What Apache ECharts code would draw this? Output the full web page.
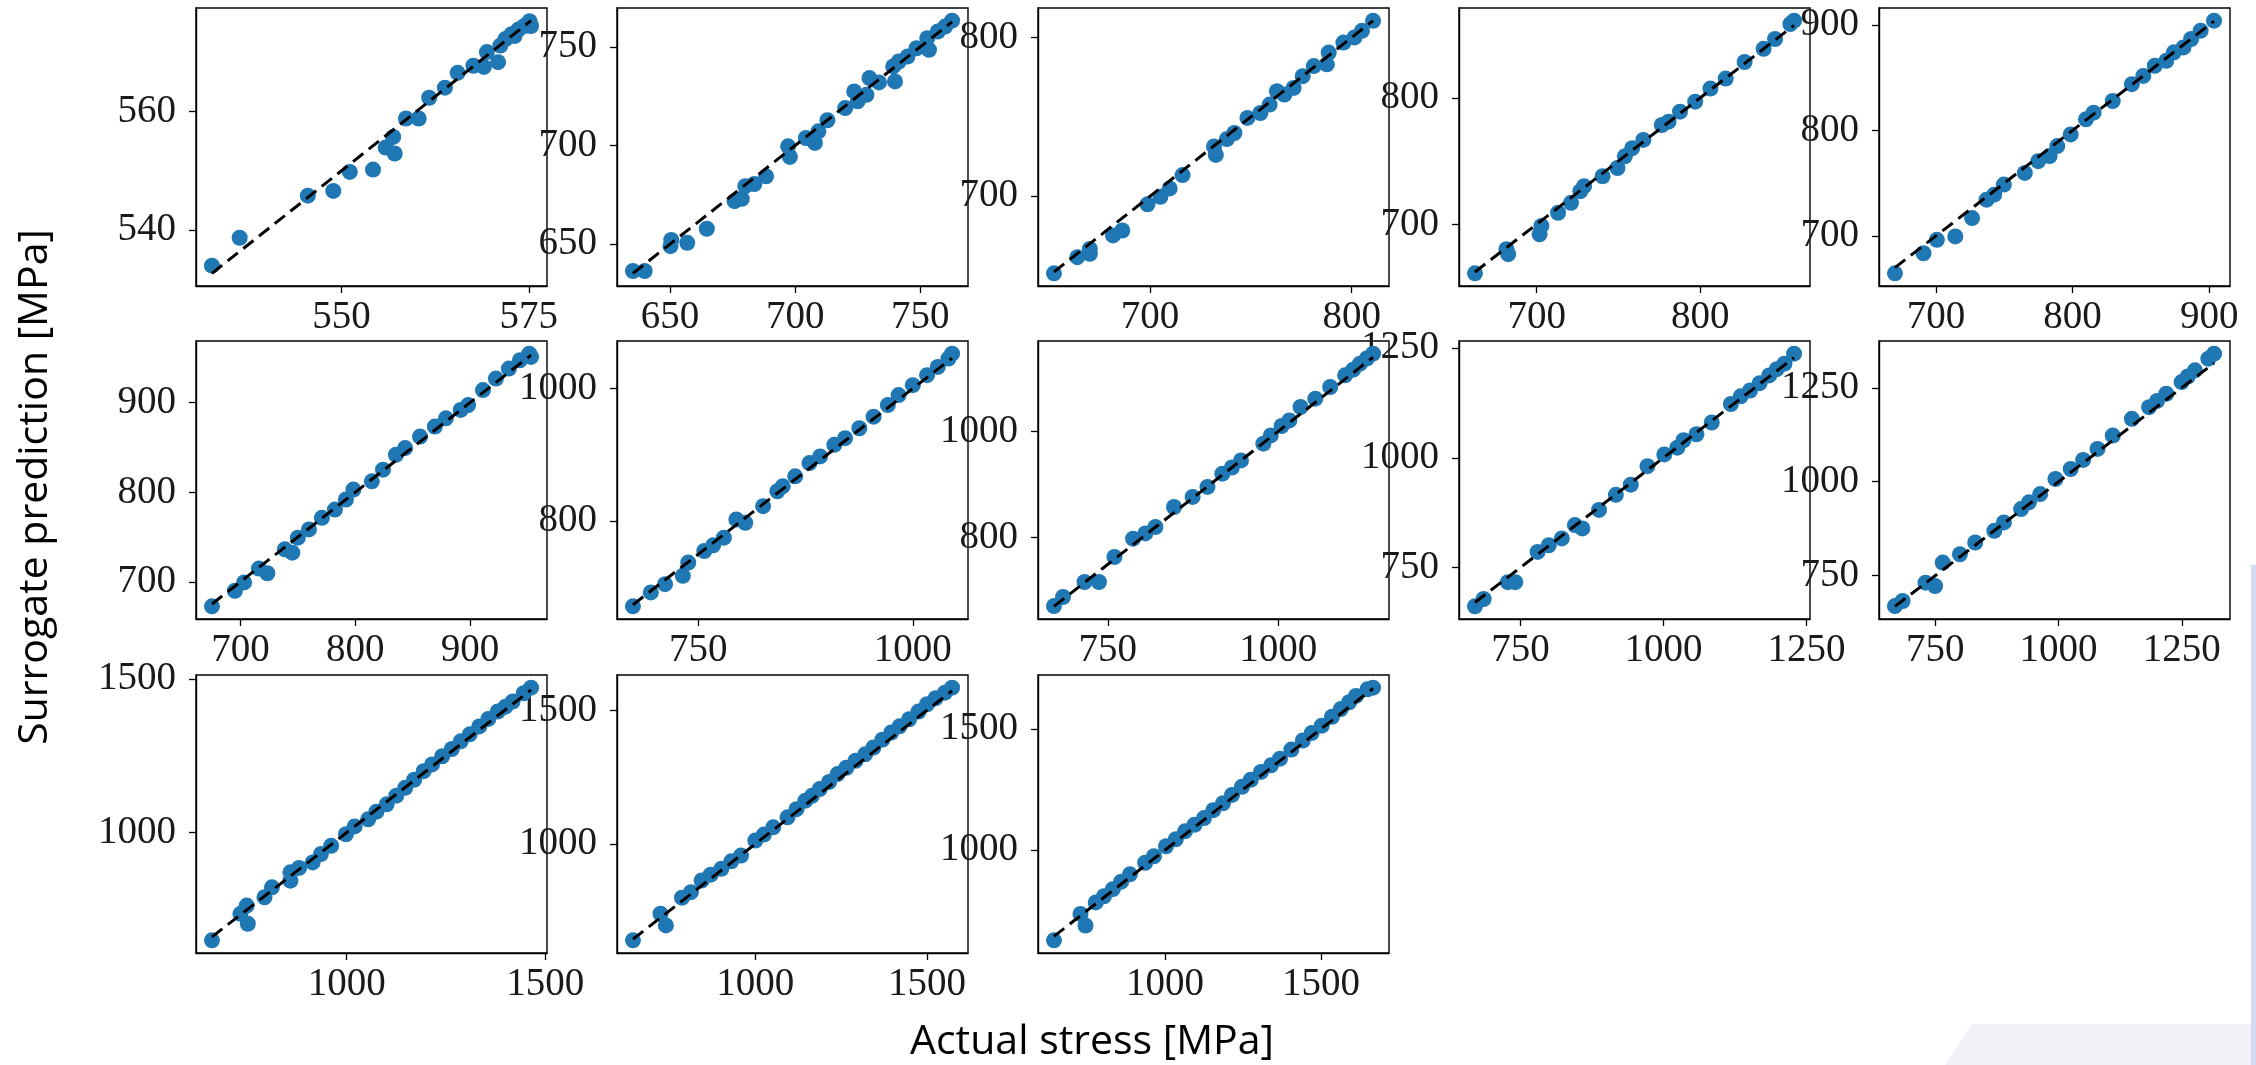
<!DOCTYPE html>
<html><head><meta charset="utf-8">
<script src="https://cdn.jsdelivr.net/npm/echarts@6/dist/echarts.min.js"></script>
<style>html,body{margin:0;padding:0;background:#fff}#c{width:2256px;height:1065px}</style>
</head><body><div id="c"></div>
<script>
// ---- data: actual stress (x) vs surrogate prediction (y), one pair per subplot ----
const actual1 = [532.7,536.4,545.5,548.9,551.1,554.2,555.9,557.1,556.9,558.6,560.3,561.7,563.8,565.5,567.6,569.0,569.4,570.9,571.2,571.9,572.7,573.6,574.4,575.1,575.3,573.1];
const predicted1 = [534.0,538.7,545.8,546.6,549.8,550.2,553.9,552.9,555.7,558.8,558.8,562.3,564.0,566.5,567.7,567.5,570.0,568.3,571.1,572.2,573.0,573.8,574.4,575.2,574.4,572.7];
const actual2 = [635.2,639.9,650.2,650.5,656.9,664.7,675.8,678.7,680.1,683.7,688.4,697.2,697.9,704.3,707.9,709.3,712.9,720.0,723.6,725.0,728.5,729.7,733.5,739.2,739.9,741.4,744.9,748.5,753.5,752.8,757.0,759.9,762.7];
const predicted2 = [636.4,636.4,649.0,652.1,650.7,657.8,671.8,673.0,679.4,680.5,684.4,699.6,694.2,703.8,701.3,707.2,712.8,719.0,727.4,722.4,725.7,734.2,732.0,740.1,732.5,742.6,745.1,749.3,748.5,754.4,757.8,760.3,763.3];
const actual3 = [652.3,663.9,670.1,670.1,681.6,686.2,698.7,705.1,709.7,716.1,731.7,732.6,738.1,741.8,748.3,754.7,759.3,762.9,766.6,771.2,775.7,781.2,787.7,788.6,795.9,801.4,805.1,810.6];
const predicted3 = [651.4,661.6,666.8,663.7,675.3,678.4,694.9,699.6,704.9,713.3,731.3,726.0,736.0,739.8,749.3,752.4,757.7,766.1,764.0,768.2,775.6,782.0,783.1,790.5,796.8,800.0,804.2,810.5];
const actual4 = [662.3,681.5,682.6,701.8,702.9,713.1,721.0,726.7,729.0,740.3,749.4,753.9,758.4,765.2,776.5,780.6,787.6,796.9,806.2,815.5,827.1,838.7,845.7,855.0,857.3];
const predicted4 = [661.2,680.3,676.4,692.1,698.7,709.1,717.0,726.2,730.1,738.0,744.5,753.7,760.2,766.7,778.5,781.1,789.0,796.9,807.3,815.2,828.3,838.7,846.5,858.3,861.0];
const actual5 = [669.9,690.8,700.6,714.1,726.4,737.0,742.6,749.6,765.0,774.8,783.2,788.8,798.6,809.8,815.4,829.4,843.4,851.8,860.2,868.6,874.2,881.2,886.8,893.8,903.6];
const predicted5 = [664.4,683.5,696.2,699.4,716.8,734.3,739.0,748.6,759.7,770.8,775.6,785.1,796.2,810.5,816.8,827.9,843.8,851.7,861.3,866.0,874.0,878.7,886.7,894.6,904.1];
const actual6 = [675.2,695.2,703.2,716.1,723.5,738.7,745.2,750.0,759.7,771.0,782.3,791.9,798.4,814.5,824.2,835.5,843.5,856.5,869.4,879.0,891.9,898.4,911.3,922.6,933.9,943.5,951.6,953.2];
const predicted6 = [672.6,690.0,699.3,714.8,709.6,736.3,732.6,749.3,758.5,771.5,780.7,791.9,803.0,812.2,825.2,841.9,849.3,862.2,873.3,882.6,891.9,897.4,914.1,927.0,938.1,947.4,954.8,951.1];
const actual7 = [674.0,694.8,711.4,732.1,738.4,757.1,767.4,779.9,794.4,804.8,825.6,842.2,848.4,863.0,879.6,892.0,908.6,921.1,937.7,954.3,970.9,983.4,1000.0,1016.6,1029.1,1041.5,1045.7];
const predicted7 = [671.5,692.5,705.0,717.5,737.5,755.0,763.5,775.0,802.5,797.5,822.5,845.0,852.5,867.5,887.5,897.5,915.0,925.0,940.0,957.5,975.0,990.0,1005.0,1020.0,1032.5,1045.0,1052.5];
const actual8 = [670.9,684.2,715.8,736.9,759.7,787.0,805.0,819.8,847.1,874.4,896.2,918.1,932.0,945.4,978.2,989.1,1005.0,1016.4,1032.8,1054.5,1076.3,1098.2,1110.0,1120.0,1130.0,1139.2];
const predicted8 = [671.5,688.5,716.7,716.7,763.7,798.1,808.0,820.1,857.7,876.6,895.4,920.4,932.0,945.4,976.8,992.4,1010.0,1020.6,1045.8,1061.5,1083.4,1105.3,1116.0,1127.3,1137.0,1146.1];
const actual9 = [670.4,685.6,727.8,740.9,780.0,799.5,822.2,845.1,858.1,887.3,916.7,942.8,972.0,1001.4,1024.1,1035.0,1057.6,1084.3,1117.8,1135.0,1151.2,1168.0,1184.7,1198.0,1211.4,1228.2];
const predicted9 = [661.5,678.3,716.6,716.6,785.6,800.8,816.2,846.7,839.1,881.2,915.7,938.7,980.9,1007.6,1023.0,1040.0,1053.6,1080.4,1122.5,1140.0,1153.3,1170.0,1187.7,1202.0,1214.4,1237.3];
const actual10 = [668.2,683.7,730.2,749.6,765.1,800.0,831.0,869.8,889.2,924.0,940.0,962.8,993.8,1024.8,1050.0,1079.1,1110.1,1148.8,1183.7,1200.0,1218.6,1249.6,1262.0,1276.7,1303.9,1315.5];
const predicted10 = [669.0,682.4,731.3,722.4,784.7,806.9,838.1,869.2,891.5,927.0,945.0,967.1,1007.1,1033.8,1058.0,1087.2,1122.8,1167.3,1198.4,1215.0,1234.0,1265.1,1280.0,1296.3,1327.4,1340.8];
const actual11 = [660.5,732.3,748.1,750.9,792.9,811.6,858.2,858.2,880.0,914.2,935.0,960.8,998.1,1020.0,1054.1,1075.0,1100.7,1125.0,1147.4,1170.0,1194.0,1215.0,1240.7,1265.0,1287.3,1310.0,1334.0,1357.0,1380.6,1400.0,1417.9,1445.9,1464.5];
const predicted11 = [649.0,735.4,762.4,703.0,789.4,821.8,843.4,870.4,885.0,902.8,930.0,956.8,994.6,1020.0,1043.2,1068.0,1091.8,1120.0,1145.8,1172.0,1199.8,1222.0,1248.4,1272.0,1297.0,1320.0,1345.6,1370.0,1394.2,1410.0,1426.6,1453.6,1471.9];
const actual12 = [643.7,723.9,739.6,786.5,812.5,843.7,870.0,901.0,930.0,958.3,1000.0,1025.0,1052.1,1093.8,1120.0,1145.8,1165.0,1187.5,1215.0,1239.6,1265.0,1291.7,1320.0,1343.8,1370.0,1395.9,1420.0,1447.9,1475.0,1500.0,1525.0,1552.1,1572.9];
const predicted12 = [639.3,738.8,695.3,799.0,819.6,863.2,885.0,906.7,935.0,956.5,1012.4,1035.0,1062.2,1099.5,1130.0,1161.7,1180.0,1205.2,1232.0,1261.2,1285.0,1311.0,1335.0,1360.7,1390.0,1416.7,1440.0,1466.4,1495.0,1522.4,1545.0,1565.9,1584.6];
const actual13 = [644.8,729.9,745.8,778.6,805.0,833.3,860.0,888.1,936.7,965.0,1003.6,1035.0,1064.5,1095.0,1125.3,1155.0,1186.1,1215.0,1247.0,1275.0,1307.8,1340.0,1368.6,1405.0,1441.6,1470.0,1502.4,1535.0,1563.2,1590.0,1611.9,1648.4,1666.6];
const predicted13 = [628.1,737.1,689.4,784.7,810.0,839.2,870.0,900.5,948.2,975.0,1016.3,1045.0,1077.7,1105.0,1132.2,1165.0,1193.5,1228.0,1261.6,1290.0,1322.9,1350.0,1377.4,1415.0,1452.3,1483.0,1513.6,1550.0,1581.7,1610.0,1636.2,1663.5,1670.3];

// ---- tick labels per subplot ----
const xTicks1 = [550,575], yTicks1 = [540,560];
const xTicks2 = [650,700,750], yTicks2 = [650,700,750];
const xTicks3 = [700,800], yTicks3 = [700,800];
const xTicks4 = [700,800], yTicks4 = [700,800];
const xTicks5 = [700,800,900], yTicks5 = [700,800,900];
const xTicks6 = [700,800,900], yTicks6 = [700,800,900];
const xTicks7 = [750,1000], yTicks7 = [800,1000];
const xTicks8 = [750,1000], yTicks8 = [800,1000];
const xTicks9 = [750,1000,1250], yTicks9 = [750,1000,1250];
const xTicks10 = [750,1000,1250], yTicks10 = [750,1000,1250];
const xTicks11 = [1000,1500], yTicks11 = [1000,1500];
const xTicks12 = [1000,1500], yTicks12 = [1000,1500];
const xTicks13 = [1000,1500], yTicks13 = [1000,1500];

const xAxisTitle = 'Actual stress [MPa]';
const yAxisTitle = 'Surrogate prediction [MPa]';

const panels = [
  [actual1,predicted1,xTicks1,yTicks1],[actual2,predicted2,xTicks2,yTicks2],
  [actual3,predicted3,xTicks3,yTicks3],[actual4,predicted4,xTicks4,yTicks4],
  [actual5,predicted5,xTicks5,yTicks5],[actual6,predicted6,xTicks6,yTicks6],
  [actual7,predicted7,xTicks7,yTicks7],[actual8,predicted8,xTicks8,yTicks8],
  [actual9,predicted9,xTicks9,yTicks9],[actual10,predicted10,xTicks10,yTicks10],
  [actual11,predicted11,xTicks11,yTicks11],[actual12,predicted12,xTicks12,yTicks12],
  [actual13,predicted13,xTicks13,yTicks13]
];

// ---- layout ----
const colLeft = [196, 617, 1038, 1459, 1879];
const rowTop = [8, 341, 675];
const W = 351, H = 278;
const tickFont = 'Liberation Serif';

function autoLim(vals) { // matplotlib-like 5% margins
  const mn = Math.min(...vals), mx = Math.max(...vals), r = mx - mn;
  return [mn - 0.05 * r, mx + 0.05 * r];
}
const plain = v => String(Math.round(v));

const grids = [], xAxes = [], yAxes = [], series = [];
panels.forEach(([a, p, xt, yt], i) => {
  const r = Math.floor(i / 5), c = i % 5;
  const lo = Math.min(...a), hi = Math.max(...a);
  const xl = autoLim(a.concat([lo, hi]));
  const yl = autoLim(p.concat([lo, hi]));
  grids.push({ left: colLeft[c], top: rowTop[r], width: W, height: H, show: true,
    borderColor: '#000', borderWidth: 1.4, backgroundColor: 'rgba(0,0,0,0)' });
  const common = {
    type: 'value', gridIndex: i, scale: true,
    axisLine: { show: true, onZero: false, lineStyle: { color: '#000', width: 1.4 } },
    splitLine: { show: false },
  };
  xAxes.push(Object.assign({}, common, {
    min: xl[0], max: xl[1],
    axisTick: { show: true, customValues: xt, length: 7, lineStyle: { color: '#000', width: 1.3 } },
    axisLabel: { customValues: xt, formatter: plain, fontFamily: tickFont, fontSize: 39, color: '#1a1a1a', margin: 12 }
  }));
  yAxes.push(Object.assign({}, common, {
    min: yl[0], max: yl[1],
    axisTick: { show: true, customValues: yt, length: 7, lineStyle: { color: '#000', width: 1.3 } },
    axisLabel: { customValues: yt, formatter: plain, fontFamily: tickFont, fontSize: 39, color: '#1a1a1a', margin: 20 }
  }));
  series.push({ type: 'scatter', xAxisIndex: i, yAxisIndex: i, silent: true, z: 2,
    symbolSize: 16, itemStyle: { color: '#1f77b4', opacity: 1 },
    data: a.map((v, k) => [v, p[k]]) });
  series.push({ type: 'line', xAxisIndex: i, yAxisIndex: i, silent: true, z: 3,
    symbol: 'none', lineStyle: { color: '#000', width: 3, type: [13, 7] },
    data: [[lo, lo], [hi, hi]] });
});

const chart = echarts.init(document.getElementById('c'), null, { renderer: 'canvas' });
chart.setOption({
  animation: false,
  backgroundColor: '#ffffff',
  grid: grids, xAxis: xAxes, yAxis: yAxes, series: series,
  graphic: [
    { type: 'polygon', silent: true, z: -1,
      shape: { points: [[1945, 1065], [1972, 1024], [2256, 1024], [2256, 1065]] },
      style: { fill: '#f1f1f8' } },
    { type: 'rect', silent: true, z: -1, shape: { x: 2251, y: 565, width: 5, height: 500 },
      style: { fill: '#d3daf0' } },
    { type: 'text', x: 1092, y: 1042, silent: true,
      style: { text: xAxisTitle, fontFamily: 'Open Sans', fontSize: 41, fill: '#000',
        align: 'center', verticalAlign: 'middle' } },
    { type: 'text', x: 35, y: 487, rotation: Math.PI / 2, silent: true,
      style: { text: yAxisTitle, fontFamily: 'Open Sans', fontSize: 41, fill: '#000',
        align: 'center', verticalAlign: 'middle' } }
  ]
});
</script>
</body></html>
